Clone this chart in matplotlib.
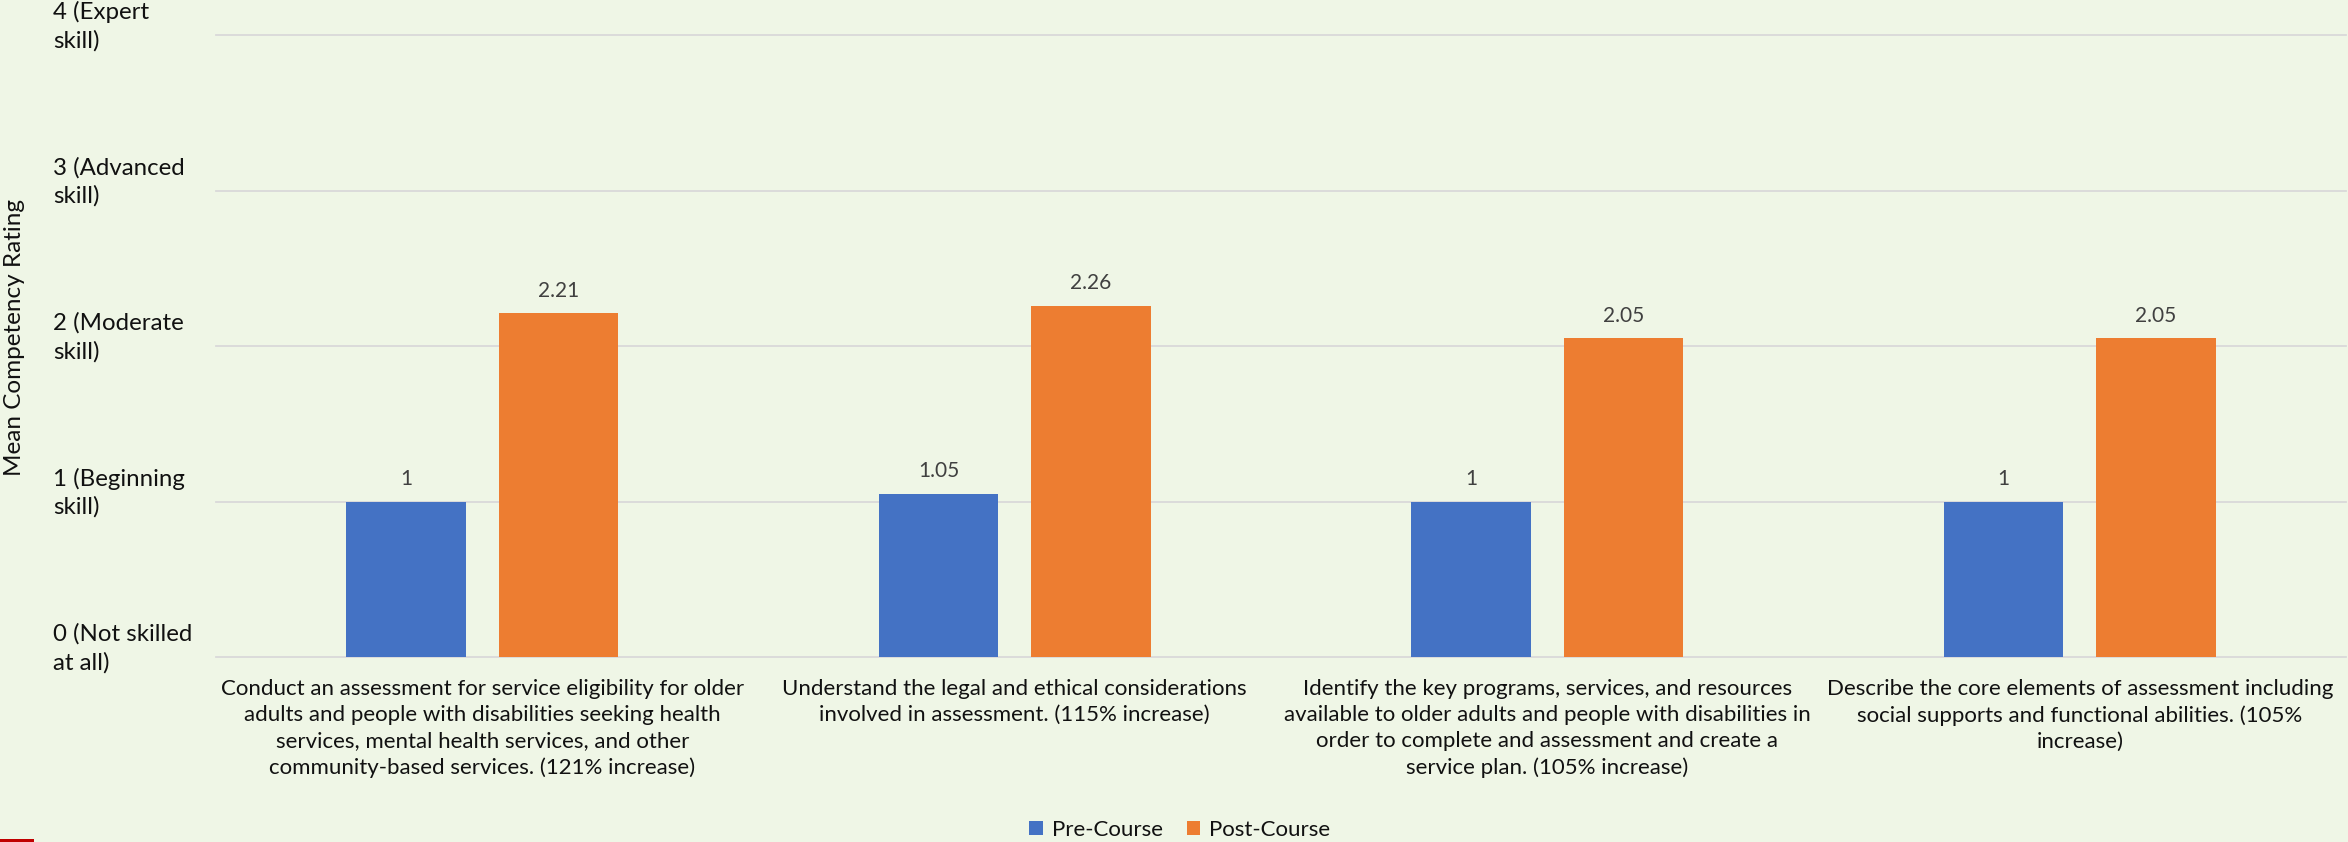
import matplotlib
matplotlib.use("Agg")
import matplotlib.pyplot as plt
import numpy as np
from matplotlib.patches import Rectangle, Patch
from matplotlib.transforms import ScaledTranslation

# Competency items (category axis)
categories = [
    "Conduct an assessment for service eligibility for older\n"
    "adults and people with disabilities seeking health\n"
    "services, mental health services, and other\n"
    "community-based services. (121% increase)",
    "Understand the legal and ethical considerations\n"
    "involved in assessment. (115% increase)",
    "Identify the key programs, services, and resources\n"
    "available to older adults and people with disabilities in\n"
    "order to complete and assessment and create a\n"
    "service plan. (105% increase)",
    "Describe the core elements of assessment including\n"
    "social supports and functional abilities. (105%\n"
    "increase)",
]

# Mean ratings
pre_course = [1, 1.05, 1, 1]
post_course = [2.21, 2.26, 2.05, 2.05]
series_names = ["Pre-Course", "Post-Course"]

# Rating scale
y_ticks = [0, 1, 2, 3, 4]
y_tick_labels = [
    "0 (Not skilled\nat all)",
    "1 (Beginning\nskill)",
    "2 (Moderate\nskill)",
    "3 (Advanced\nskill)",
    "4 (Expert\nskill)",
]
y_title = "Mean Competency Rating"

BG = "#EFF6E6"
BLUE = "#4472C4"
ORANGE = "#ED7D31"
GRID = "#D9D9D9"

W, H, DPI = 2348, 842, 100
plt.rcParams["font.family"] = ["Lato", "DejaVu Sans"]

fig = plt.figure(figsize=(W / DPI, H / DPI), dpi=DPI, facecolor=BG)

# plot area in pixels
left, right, top, bottom = 216, 2346, 35, 657
ax = fig.add_axes([left / W, 1 - bottom / H, (right - left) / W, (bottom - top) / H])
ax.set_facecolor(BG)

x = np.arange(len(categories))
bar_w = 0.224
offset = 0.143
bars_pre = ax.bar(x - offset, pre_course, bar_w, color=BLUE, zorder=3)
bars_post = ax.bar(x + offset, post_course, bar_w, color=ORANGE, zorder=3)

ax.set_xlim(-0.5, len(categories) - 0.5)
ax.set_ylim(0, 4)

ax.set_yticks(y_ticks, y_tick_labels)
ax.tick_params(axis="y", length=0, pad=117.4, labelsize=17.3, labelcolor="#111111")
lift = ScaledTranslation(0, 14 / DPI, fig.dpi_scale_trans)
for lab in ax.get_yticklabels():
    lab.set_horizontalalignment("left")
    lab.set_multialignment("left")
    lab.set_linespacing(1.38)
    lab.set_transform(lab.get_transform() + lift)

ax.set_xticks(x, categories)
ax.tick_params(axis="x", length=0, pad=16, labelsize=16, labelcolor="#111111")
for lab in ax.get_xticklabels():
    lab.set_multialignment("center")
    lab.set_linespacing(1.37)

for s in ax.spines.values():
    s.set_visible(False)

ax.yaxis.grid(True, color=GRID, linewidth=1.3)
ax.set_axisbelow(True)
for gl in ax.get_ygridlines():
    gl.set_clip_on(False)

ax.bar_label(bars_pre, fmt="%g", padding=9, fontsize=15, color="#404040")
ax.bar_label(bars_post, fmt="%g", padding=9, fontsize=15, color="#404040")

fig.text(15 / W, 1 - 338 / H, y_title, rotation=90, ha="center", va="center",
         fontsize=17.5, color="#111111")

handles = [Patch(facecolor=BLUE), Patch(facecolor=ORANGE)]
fig.legend(handles, series_names, loc="center", bbox_to_anchor=(1180 / W, 1 - 829.5 / H),
           ncol=2, frameon=False, fontsize=16, handlelength=0.6, handleheight=0.6,
           handletextpad=0.4, columnspacing=1.1, borderpad=0, labelcolor="#111111")

# small accent bar in the bottom-left corner
fig.patches.append(Rectangle((0, 0), 34 / W, 3 / H, transform=fig.transFigure,
                             facecolor="#C00000", edgecolor="none"))

fig.savefig("out.png", dpi=DPI, facecolor=BG)
